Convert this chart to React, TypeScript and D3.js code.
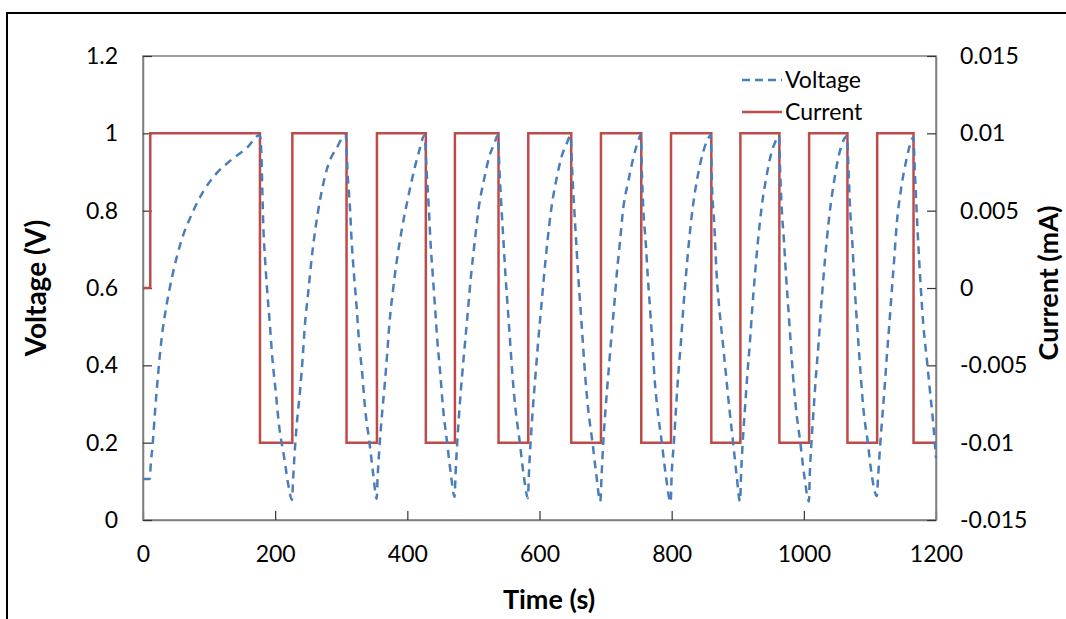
import * as d3 from "d3";
import { useRef, useEffect } from "react";

const width = 1066;
const height = 619;
const margin = { top: 56, right: 130, bottom: 99, left: 143 };

const timeTicks = [0, 200, 400, 600, 800, 1000, 1200];
const voltageTicks = [0, 0.2, 0.4, 0.6, 0.8, 1, 1.2];
const voltageTickLabels = ["0", "0.2", "0.4", "0.6", "0.8", "1", "1.2"];
const currentTicks = [-0.015, -0.01, -0.005, 0, 0.005, 0.01, 0.015];
const currentTickLabels = ["-0.015", "-0.01", "-0.005", "0", "0.005", "0.01", "0.015"];

// current steps (s, mA)
const currentTimes = [0, 11, 177, 226, 308, 354, 428, 472, 538, 583, 648, 693, 754, 799, 860, 904, 963, 1008, 1066, 1111, 1166, 1200];
const currentValues = [0, 0.01, -0.01, 0.01, -0.01, 0.01, -0.01, 0.01, -0.01, 0.01, -0.01, 0.01, -0.01, 0.01, -0.01, 0.01, -0.01, 0.01, -0.01, 0.01, -0.01, -0.01];

// voltage readings (s, V)
const voltage: [number, number][] = [
  [0, 0.106], [10, 0.106], [12, 0.15], [14.6, 0.195], [18.2, 0.281], [23.2, 0.384], [28.2, 0.47], [35.8, 0.557],
  [45.9, 0.643], [58.5, 0.725], [73.6, 0.79], [91.3, 0.85], [111.5, 0.897], [134, 0.932], [157, 0.962], [176, 0.995],
  [177.5, 0.99], [179.6, 0.919], [180.6, 0.85], [182, 0.764], [184.6, 0.678], [188, 0.591], [192, 0.505], [195.7, 0.419],
  [200.8, 0.333], [205.8, 0.246], [213.8, 0.16], [219.9, 0.091], [225.5, 0.052],
  [227, 0.1], [229, 0.16], [232.6, 0.246], [237.6, 0.333], [241.6, 0.419], [245, 0.505], [250.2, 0.591], [255.3, 0.678],
  [261.8, 0.764], [270.4, 0.85], [280.4, 0.919], [293, 0.962], [306.7, 0.996],
  [309.7, 0.893], [313.2, 0.807], [315.8, 0.72], [319.3, 0.634], [323.4, 0.548], [326.9, 0.462], [331.9, 0.376],
  [336, 0.29], [342.5, 0.203], [348.5, 0.117], [353.6, 0.055],
  [355, 0.11], [357.5, 0.18], [361, 0.26], [365.5, 0.345], [369.5, 0.43], [373, 0.51], [378, 0.59], [384, 0.67],
  [391.5, 0.75], [401.5, 0.837], [411.6, 0.914], [418, 0.955], [426, 0.995],
  [429.5, 0.893], [432.5, 0.807], [435, 0.72], [438.5, 0.634], [442, 0.548], [445.5, 0.462], [450, 0.376],
  [454, 0.29], [460, 0.203], [466, 0.117], [471.5, 0.06],
  [473, 0.12], [475.5, 0.2], [479, 0.29], [483, 0.376], [487.5, 0.462], [492, 0.548], [496.5, 0.634], [502, 0.72],
  [508, 0.807], [516, 0.88], [524, 0.94], [532, 0.975], [537, 0.995],
  [539.5, 0.9], [542.5, 0.807], [545.5, 0.72], [548.5, 0.634], [552, 0.548], [555.5, 0.462], [559, 0.376],
  [563.5, 0.29], [570, 0.203], [576, 0.117], [582.5, 0.057],
  [584, 0.12], [586.5, 0.2], [590, 0.29], [594, 0.376], [598, 0.462], [602.5, 0.548], [607, 0.634], [612, 0.72],
  [618, 0.807], [625.5, 0.88], [633.5, 0.94], [641.5, 0.975], [647, 0.995],
  [649.5, 0.9], [652.5, 0.807], [655.5, 0.72], [658.5, 0.634], [662, 0.548], [665.5, 0.462], [669, 0.376],
  [673.5, 0.29], [680, 0.203], [686, 0.117], [692, 0.048],
  [694, 0.117], [696.6, 0.203], [700.1, 0.29], [704.1, 0.376], [708.2, 0.462], [712.7, 0.548], [716.8, 0.634],
  [721.8, 0.72], [726.8, 0.807], [734.4, 0.876], [741.9, 0.936], [751, 0.988], [753.5, 0.997],
  [754.6, 0.919], [757, 0.807], [760.7, 0.72], [763.7, 0.634], [767.2, 0.548], [770.7, 0.462], [773.7, 0.376],
  [778.3, 0.29], [784.9, 0.203], [791, 0.117], [798.5, 0.046],
  [800, 0.117], [803.5, 0.203], [806.6, 0.29], [810, 0.376], [814.1, 0.462], [817.6, 0.548], [821.7, 0.634],
  [826.2, 0.72], [831.8, 0.807], [838.8, 0.884], [847.9, 0.953], [857, 0.992], [859.3, 0.996],
  [860.5, 0.893], [864.5, 0.764], [868.1, 0.634], [872, 0.548], [877.2, 0.462], [882.2, 0.376], [887.2, 0.29],
  [893, 0.2], [898, 0.12], [903.5, 0.048],
  [905, 0.117], [907.5, 0.2], [911, 0.29], [914.5, 0.376], [918.5, 0.462], [922, 0.548], [926, 0.634], [930.5, 0.72],
  [936, 0.807], [943, 0.884], [951, 0.95], [959, 0.985], [962.5, 0.993],
  [964, 0.91], [966.5, 0.807], [970, 0.72], [973, 0.634], [976.5, 0.548], [980, 0.462], [983.5, 0.376],
  [988, 0.29], [994.5, 0.203], [1000.5, 0.117], [1007.8, 0.048],
  [1009, 0.117], [1011.5, 0.2], [1015, 0.29], [1018.5, 0.376], [1022.5, 0.462], [1026, 0.548], [1030, 0.634],
  [1034.5, 0.72], [1040, 0.807], [1046.5, 0.884], [1054, 0.95], [1062, 0.988], [1065.3, 0.993],
  [1067.3, 0.919], [1069.9, 0.807], [1073.3, 0.72], [1075.9, 0.634], [1078.9, 0.548], [1082.4, 0.462], [1086, 0.376],
  [1090, 0.29], [1096.6, 0.203], [1102.7, 0.117], [1110.5, 0.062],
  [1112, 0.1], [1114.2, 0.16], [1117.8, 0.246], [1121.8, 0.333], [1125.4, 0.419], [1129.3, 0.505], [1133, 0.591],
  [1136.9, 0.678], [1140.5, 0.764], [1146.6, 0.85], [1154.6, 0.927], [1163.2, 0.983], [1165.5, 0.99],
  [1168.2, 0.893], [1171.7, 0.764], [1175.8, 0.634], [1180.8, 0.505], [1185.9, 0.419], [1190.9, 0.333],
  [1196, 0.246], [1200, 0.16],
];

const font = "Lato, 'Open Sans', sans-serif";
const blue = "#4A7EBB";
const red = "#BE4B48";
const axisGrey = "#7f7f7f";

export default function App() {
  const svgRef = useRef<SVGSVGElement>(null);

  useEffect(() => {
    const svg = d3.select(svgRef.current);
    svg.selectAll("*").remove();

    const x = d3.scaleLinear().domain([0, 1200]).range([margin.left, width - margin.right]);
    const yV = d3.scaleLinear().domain([0, 1.2]).range([height - margin.bottom, margin.top]);
    const yI = d3.scaleLinear().domain([-0.015, 0.015]).range([height - margin.bottom, margin.top]);

    // outer frame
    svg.append("path")
      .attr("d", `M7,${height} V13 H${width}`)
      .attr("fill", "none")
      .attr("stroke", "#000")
      .attr("stroke-width", 2);

    // plot border
    svg.append("rect")
      .attr("x", margin.left)
      .attr("y", margin.top)
      .attr("width", width - margin.left - margin.right)
      .attr("height", height - margin.top - margin.bottom)
      .attr("fill", "none")
      .attr("stroke", axisGrey)
      .attr("stroke-width", 1.5);

    const styleAxis = (g: d3.Selection<SVGGElement, unknown, null, undefined>) => {
      g.select(".domain").attr("stroke", axisGrey).attr("stroke-width", 1.5);
      g.selectAll(".tick line").attr("stroke", "#333").attr("stroke-width", 1.2);
      g.selectAll(".tick text").attr("fill", "#000").style("font-family", font).style("font-size", "23px");
    };

    svg.append("g")
      .attr("transform", `translate(0,${height - margin.bottom})`)
      .call(d3.axisBottom(x).tickValues(timeTicks).tickSize(-9).tickSizeOuter(0).tickPadding(26).tickFormat(d => String(d)))
      .call(styleAxis);

    svg.append("g")
      .attr("transform", `translate(${margin.left},0)`)
      .call(d3.axisLeft(yV).tickValues(voltageTicks).tickSize(-9).tickSizeOuter(0).tickPadding(25)
        .tickFormat((d, i) => voltageTickLabels[i]))
      .call(styleAxis);

    svg.append("g")
      .attr("transform", `translate(${width - margin.right},0)`)
      .call(d3.axisRight(yI).tickValues(currentTicks).tickSize(-9).tickSizeOuter(0).tickPadding(24)
        .tickFormat((d, i) => currentTickLabels[i]))
      .call(styleAxis);

    // current (step)
    const currentData = currentTimes.map((t, i) => [t, currentValues[i]] as [number, number]);
    svg.append("path")
      .datum(currentData)
      .attr("fill", "none")
      .attr("stroke", red)
      .attr("stroke-width", 2.5)
      .attr("d", d3.line<[number, number]>().x(d => x(d[0])).y(d => yI(d[1])).curve(d3.curveStepAfter));

    // voltage (dashed)
    svg.append("path")
      .datum(voltage)
      .attr("fill", "none")
      .attr("stroke", blue)
      .attr("stroke-width", 2.5)
      .attr("stroke-dasharray", "8,6")
      .attr("d", d3.line<[number, number]>().x(d => x(d[0])).y(d => yV(d[1])).curve(d3.curveMonotoneX));

    // legend
    const legend = svg.append("g").attr("transform", "translate(742,80)");
    [["Voltage", blue, "8,5"], ["Current", red, null]].forEach(([name, color, dash], i) => {
      const row = legend.append("g").attr("transform", `translate(0,${i * 32})`);
      row.append("line").attr("x1", 0).attr("x2", 40).attr("y1", 0).attr("y2", 0)
        .attr("stroke", color as string).attr("stroke-width", 2.5)
        .attr("stroke-dasharray", dash as string | null);
      row.append("text").attr("x", 43).attr("y", 8).text(name as string)
        .style("font-family", font).style("font-size", "23px");
    });

    // axis titles
    svg.append("text")
      .attr("x", 549).attr("y", 609)
      .attr("text-anchor", "middle")
      .style("font-family", font).style("font-size", "27px").style("font-weight", "bold")
      .text("Time (s)");

    svg.append("text")
      .attr("transform", `translate(46,288) rotate(-90)`)
      .attr("text-anchor", "middle")
      .style("font-family", font).style("font-size", "28px").style("font-weight", "bold")
      .text("Voltage (V)");

    svg.append("text")
      .attr("transform", `translate(1058,283) rotate(-90)`)
      .attr("text-anchor", "middle")
      .style("font-family", font).style("font-size", "27px").style("font-weight", "bold")
      .text("Current (mA)");
  }, []);

  return (
    <div style={{ position: "absolute", left: 0, top: 0 }}>
      <svg ref={svgRef} width={width} height={height} style={{ display: "block", background: "#fff" }} />
    </div>
  );
}
